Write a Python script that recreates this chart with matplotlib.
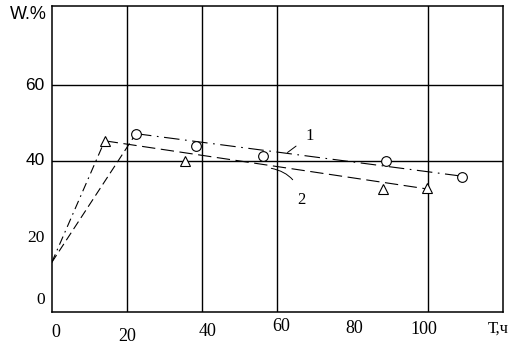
import matplotlib
matplotlib.use("Agg")
import matplotlib.pyplot as plt

# Кривая 1 (кружки) и кривая 2 (треугольники)
line1_t = [0, 22.4, 109.2]
line1_w = [13, 47.2, 35.9]
pts1_t = [22.4, 38.4, 56.1, 88.9, 109.2]
pts1_w = [47.2, 43.8, 41.4, 40.0, 35.7]

line2_t = [0, 14.1, 100]
line2_w = [13, 45.3, 32.5]
pts2_t = [14.1, 35.4, 88.0, 99.9]
pts2_w = [45.3, 40.0, 32.6, 32.8]

# подписи осей
x_ticks = [0, 20, 40, 60, 80, 100]
x_labels = ['0', '20', '40', '60', '80', '100']
y_ticks = [0, 20, 40, 60]
y_labels = ['0', '20', '40', '60']
grid_x = [20, 40, 60, 100]
grid_y = [40, 60]

fig = plt.figure(figsize=(5.21, 3.48), dpi=100)
ax = fig.add_axes([51.7 / 521, 1 - 311.5 / 348, (503 - 51.7) / 521, (311.5 - 6.3) / 348])
ax.set_xlim(0, 120)
ax.set_ylim(0, 81)
ax.set_xticks([])
ax.set_yticks([])
for s in ax.spines.values():
    s.set_linewidth(1.1)

for gx in grid_x:
    ax.axvline(gx, color='black', lw=1.0)
for gy in grid_y:
    ax.axhline(gy, color='black', lw=1.0)

# кривая 1: подъём штрихами, дальше штрих-пунктир
r1, = ax.plot(line1_t[:2], line1_w[:2], color='black', lw=0.8)
r1.set_dashes((8, 4))
l1, = ax.plot(line1_t[1:], line1_w[1:], color='black', lw=0.8)
l1.set_dashes((14, 5, 1.5, 5))
ax.plot(pts1_t, pts1_w, 'o', ms=7, mfc='white', mec='black', mew=0.8, ls='none')

# кривая 2: подъём штрих-пунктиром, дальше штрихи
r2, = ax.plot(line2_t[:2], line2_w[:2], color='black', lw=0.8)
r2.set_dashes((8, 4, 1.5, 4))
l2, = ax.plot(line2_t[1:], line2_w[1:], color='black', lw=0.8)
l2.set_dashes((12, 5))
ax.plot(pts2_t, pts2_w, '^', ms=6.5, mfc='white', mec='black', mew=0.8, ls='none')

# номера кривых
ax.annotate('1', xy=(62.7, 42.2), xytext=(68.6, 46.6), fontsize=12,
            family='Liberation Serif', ha='center', va='center',
            arrowprops=dict(arrowstyle='-', lw=0.7, color='black', shrinkA=6, shrinkB=0))
ax.annotate('2', xy=(58.4, 38.0), xytext=(66.4, 29.6), fontsize=12,
            family='Liberation Serif', ha='center', va='center',
            arrowprops=dict(arrowstyle='-', lw=0.7, color='black', shrinkA=8, shrinkB=0,
                            connectionstyle='arc3,rad=0.35'))

# подписи по оси X (смещения как на рисунке)
x_dx = [1, 0, 1.5, 1, 0.5, -1]
x_dy = [-21, -25, -20, -15, -17, -18]
for v, lab, dx, dy in zip(x_ticks, x_labels, x_dx, x_dy):
    ax.annotate(lab, xy=(v + dx, 0), xycoords='data', xytext=(0, dy),
                textcoords='offset pixels', ha='center', va='center',
                fontsize=13, family='Liberation Serif')
ax.annotate('Т,ч', xy=(120, 0), xytext=(-5, -17), textcoords='offset pixels',
            ha='center', va='center', fontsize=12, family='Liberation Serif')

# подписи по оси Y
y_fam = ['Liberation Serif', 'Liberation Serif', 'Liberation Sans', 'Liberation Sans']
y_dy = [12, -2, 0, 0]
for v, lab, fam, dy in zip(y_ticks, y_labels, y_fam, y_dy):
    ax.annotate(lab, xy=(0, v), xytext=(-7, dy), textcoords='offset pixels',
                ha='right', va='center', fontsize=12.5, family=fam)
ax.annotate('W.%', xy=(0, 81), xytext=(-23, -8), textcoords='offset pixels',
            ha='center', va='center', fontsize=13, family='Liberation Sans')

plt.savefig('out.png', dpi=100)
